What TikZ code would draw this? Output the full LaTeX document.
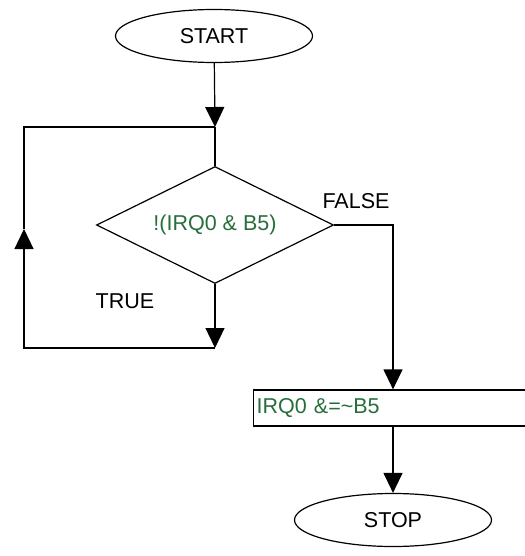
\documentclass[tikz,border=0pt]{standalone}
\usepackage{fontspec}
\setmainfont{Liberation Sans}
\usepackage{tikz}
\usetikzlibrary{arrows.meta, positioning, shapes.geometric}
\usepackage{xcolor}
\definecolor{codegreen}{RGB}{40,110,60}
\begin{document}
\begin{tikzpicture}[x=1pt, y=-1pt, line width=1.2pt,
    font=\fontsize{21.5}{24}\selectfont,
    arr/.style={-{Triangle[width=19pt,length=20pt]}},
    termbox/.style={ellipse, draw, minimum width=197pt, minimum height=53pt, inner sep=0pt},
    condbox/.style={diamond, draw, aspect=2, minimum width=237pt, minimum height=117pt, inner sep=0pt, text=codegreen},
    actbox/.style={rectangle, draw, minimum height=36pt, text width=272pt, align=left, inner sep=3pt, text=codegreen}]
  \useasboundingbox (0,0) rectangle (524,556);
  \node[termbox] (start) at (214,36) {START};
  \coordinate (join) at (215,127);
  \node[condbox] (cond) at (215,225) {!(IRQ0 \& B5)};
  \coordinate (truept) at (215,348);
  \coordinate (loopbl) at (24,348);
  \coordinate (loopmid) at (24,229);
  \coordinate (looptl) at (24,127);
  \node[actbox, anchor=west] (act) at (253,408) {IRQ0 \&=\textasciitilde B5};
  \node[termbox] (stop) at (393,520) {STOP};
  \draw[arr] (start) -- (join);
  \draw (join) -- (cond.north);
  \draw[arr] (cond.south) -- (truept);
  \draw[arr] (truept) -- (loopbl) -- (loopmid);
  \draw (loopmid) -- (looptl) -- (join);
  \draw[arr] (cond.east) -| (act.north -| stop.north);
  \draw[arr] (act.south -| stop.north) -- (stop.north);
  \node (falselbl) at (356,201) {FALSE};
  \node (truelbl) at (125,301) {TRUE};
\end{tikzpicture}
\end{document}
